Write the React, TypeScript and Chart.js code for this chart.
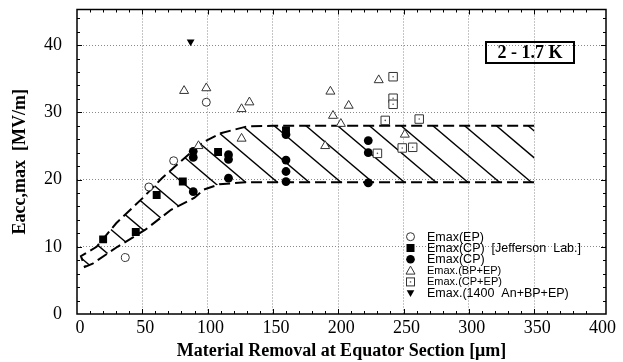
import React, { useEffect, useRef } from 'react';
import { Chart, registerables } from 'chart.js';

Chart.register(...registerables);

// ---------- data ----------
const X_TICKS = [0, 50, 100, 150, 200, 250, 300, 350, 400];
const Y_TICKS = [0, 10, 20, 30, 40];

const epX = [37, 55, 74, 99];
const epY = [8.4, 18.9, 22.8, 31.5];

const jlabX = [20, 45, 61, 81, 108, 160];
const jlabY = [11.1, 12.2, 17.7, 19.7, 24.1, 27.3];

const cpX = [89, 89, 89, 116, 116, 116, 160, 160, 160, 160, 223, 223, 223];
const cpY = [24.2, 23.3, 18.2, 23.7, 23.0, 20.2, 26.7, 22.9, 21.2, 19.7, 25.8, 24.0, 19.5];

const bpX = [82, 99, 93, 126, 132, 126, 194, 231, 208, 196, 202, 190, 251];
const bpY = [33.2, 33.6, 25.0, 30.5, 31.5, 26.1, 33.1, 34.8, 31.0, 29.5, 28.3, 25.0, 26.7];

const cpepX = [242, 242, 242, 236, 262, 230, 249, 257];
const cpepY = [35.3, 32.1, 31.2, 28.8, 29.0, 23.9, 24.7, 24.8];

const anX = [87];
const anY = [40.5];

const bandUpperX = [3, 15, 30, 50, 65, 80, 96, 110, 130, 150, 350];
const bandUpperY = [8.6, 10, 13.5, 17.2, 20.2, 22.8, 25.5, 26.9, 27.9, 28, 28];
const bandLowerX = [6, 12, 31, 52, 72, 90, 97, 109, 129, 350];
const bandLowerY = [7, 7.5, 10, 12.5, 15.5, 17.3, 18.5, 19.3, 19.6, 19.6];

// hatch: lines pass through (HATCH_X0 + k*HATCH_STEP, HATCH_TOP) and (.. + HATCH_RUN, HATCH_BOTTOM)
const HATCH_X0 = 151;
const HATCH_STEP = 24.3;
const HATCH_RUN = 51;
const HATCH_TOP = 28;
const HATCH_BOTTOM = 19.6;

const LEGEND_LABELS = [
  'Emax(EP)',
  'Emax(CP)  [Jefferson  Lab.]',
  'Emax(CP)',
  'Emax.(BP+EP)',
  'Emax.(CP+EP)',
  'Emax.(1400  An+BP+EP)',
];
const LEGEND_KINDS = ['openCircle', 'filledSquare', 'filledCircle', 'openTriangle', 'openSquare', 'downTriangle'];
const LEGEND_SIZES = [12.5, 12.5, 12.5, 11, 11, 12.5];

const BOX_TEXT = '2 - 1.7 K';

const X_TITLE = 'Material Removal at Equator Section [μm]';
const Y_TITLE = 'Eacc,max  [MV/m]';

const pts = (xs: number[], ys: number[]) => xs.map((v, i) => ({ x: v, y: ys[i] }));

function drawMarker(ctx: CanvasRenderingContext2D, kind: string, cx: number, cy: number) {
  ctx.save();
  ctx.fillStyle = '#000';
  ctx.strokeStyle = '#333';
  ctx.lineWidth = 1;
  ctx.beginPath();
  if (kind === 'openCircle') {
    ctx.arc(cx, cy, 4, 0, Math.PI * 2);
    ctx.stroke();
  } else if (kind === 'filledSquare') {
    ctx.fillRect(cx - 4, cy - 4, 8, 8);
  } else if (kind === 'filledCircle') {
    ctx.arc(cx, cy, 4.3, 0, Math.PI * 2);
    ctx.fill();
  } else if (kind === 'openTriangle') {
    ctx.moveTo(cx, cy - 4.5);
    ctx.lineTo(cx + 4.5, cy + 3.5);
    ctx.lineTo(cx - 4.5, cy + 3.5);
    ctx.closePath();
    ctx.stroke();
  } else if (kind === 'openSquare') {
    ctx.strokeRect(cx - 4, cy - 4, 8, 8);
    ctx.fillStyle = '#555';
    ctx.fillRect(cx - 0.7, cy - 0.7, 1.4, 1.4);
  } else if (kind === 'downTriangle') {
    ctx.moveTo(cx - 3.8, cy - 3);
    ctx.lineTo(cx + 3.8, cy - 3);
    ctx.lineTo(cx, cy + 3.8);
    ctx.closePath();
    ctx.fill();
  }
  ctx.restore();
}

const hatchPlugin = {
  id: 'hatch',
  beforeDatasetsDraw(chart: any) {
    const { ctx, scales } = chart;
    const x = scales.x;
    const y = scales.y;
    ctx.save();
    ctx.beginPath();
    bandUpperX.forEach((v, i) => {
      const px = x.getPixelForValue(v);
      const py = y.getPixelForValue(bandUpperY[i]);
      if (i === 0) ctx.moveTo(px, py);
      else ctx.lineTo(px, py);
    });
    for (let i = bandLowerX.length - 1; i >= 0; i--) {
      ctx.lineTo(x.getPixelForValue(bandLowerX[i]), y.getPixelForValue(bandLowerY[i]));
    }
    ctx.closePath();
    ctx.clip();
    ctx.strokeStyle = '#000';
    ctx.lineWidth = 1.4;
    for (let k = -14; k <= 10; k++) {
      const x0 = HATCH_X0 + k * HATCH_STEP;
      const ax = x.getPixelForValue(x0);
      const ay = y.getPixelForValue(HATCH_TOP);
      const bx = x.getPixelForValue(x0 + HATCH_RUN);
      const by = y.getPixelForValue(HATCH_BOTTOM);
      const dx = bx - ax;
      const dy = by - ay;
      ctx.beginPath();
      ctx.moveTo(ax - 3 * dx, ay - 3 * dy);
      ctx.lineTo(ax + 3 * dx, ay + 3 * dy);
      ctx.stroke();
    }
    ctx.restore();
  },
};

const framePlugin = {
  id: 'frame',
  afterDraw(chart: any) {
    const { ctx, chartArea, scales } = chart;
    const x = scales.x;
    const y = scales.y;
    const { left, right, top, bottom } = chartArea;
    ctx.save();
    ctx.strokeStyle = '#000';
    ctx.lineWidth = 1.5;
    ctx.strokeRect(left, top, right - left, bottom - top);
    ctx.lineWidth = 1;
    ctx.beginPath();
    for (let v = 10; v < 400; v += 10) {
      const px = Math.round(x.getPixelForValue(v)) + 0.5;
      const len = v % 50 === 0 ? 5 : 3;
      ctx.moveTo(px, bottom);
      ctx.lineTo(px, bottom - len);
      ctx.moveTo(px, top);
      ctx.lineTo(px, top + len);
    }
    for (let v = 2; v < 45; v += 2) {
      const py = Math.round(y.getPixelForValue(v)) + 0.5;
      const len = v % 10 === 0 ? 5 : 3;
      ctx.moveTo(left, py);
      ctx.lineTo(left + len, py);
      ctx.moveTo(right, py);
      ctx.lineTo(right - len, py);
    }
    ctx.stroke();

    // legend
    LEGEND_LABELS.forEach((lab, i) => {
      const cy = 236.7 + 11.3 * i;
      drawMarker(ctx, LEGEND_KINDS[i], 410.5, cy);
      ctx.fillStyle = '#000';
      ctx.font = `${LEGEND_SIZES[i]}px "Liberation Sans", Arial, sans-serif`;
      ctx.textAlign = 'left';
      ctx.textBaseline = 'middle';
      ctx.fillText(lab, 427, cy + 0.5);
    });

    // temperature box
    ctx.lineWidth = 2;
    ctx.strokeStyle = '#000';
    ctx.strokeRect(486, 42, 88, 21);
    ctx.font = 'bold 18px "Liberation Serif", "Times New Roman", serif';
    ctx.textAlign = 'center';
    ctx.textBaseline = 'middle';
    ctx.fillStyle = '#000';
    ctx.fillText(BOX_TEXT, 530, 53.5);
    ctx.restore();
  },
};

const tickFont = { family: '"Liberation Serif", "Times New Roman", serif', size: 18 };
const titleFont = { family: '"Liberation Serif", "Times New Roman", serif', size: 18, weight: 'bold' as const };

export default function App() {
  const ref = useRef<HTMLCanvasElement | null>(null);
  useEffect(() => {
    if (!ref.current) return;
    const open = { backgroundColor: '#fff', borderColor: '#333', borderWidth: 1 };
    const chart = new Chart(ref.current, {
      type: 'scatter',
      data: {
        datasets: [
          { label: 'an', data: pts(anX, anY), pointStyle: 'triangle', rotation: 180, pointRadius: 4.5, backgroundColor: '#000', borderColor: '#000', borderWidth: 0 } as any,
          { label: 'cpepDot', data: pts(cpepX, cpepY), pointStyle: 'circle', pointRadius: 0.8, backgroundColor: '#555', borderWidth: 0 },
          { label: 'cpep', data: pts(cpepX, cpepY), pointStyle: 'rect', pointRadius: 6, ...open },
          { label: 'bp', data: pts(bpX, bpY), pointStyle: 'triangle', pointRadius: 5.2, ...open },
          { label: 'cp', data: pts(cpX, cpY), pointStyle: 'circle', pointRadius: 4.4, backgroundColor: '#000', borderColor: '#000', borderWidth: 0 },
          { label: 'jlab', data: pts(jlabX, jlabY), pointStyle: 'rect', pointRadius: 5.6, backgroundColor: '#000', borderColor: '#000', borderWidth: 0 },
          { label: 'ep', data: pts(epX, epY), pointStyle: 'circle', pointRadius: 4, ...open },
          {
            label: 'band',
            data: [...pts(bandUpperX, bandUpperY).reverse(), ...pts(bandLowerX, bandLowerY)],
            showLine: true,
            pointRadius: 0,
            borderColor: '#000',
            borderWidth: 2,
            borderDash: [11, 5],
            fill: false,
          } as any,
        ],
      },
      options: {
        responsive: true,
        maintainAspectRatio: false,
        animation: false,
        layout: { padding: { left: 0, right: 17, top: 9.5, bottom: 0 } },
        plugins: { legend: { display: false }, tooltip: { enabled: false } },
        scales: {
          x: {
            type: 'linear',
            min: 0,
            max: 405,
            afterBuildTicks: (s: any) => { s.ticks = X_TICKS.map((v) => ({ value: v })); },
            afterFit: (s: any) => { s.height = 48; s.paddingLeft = 0; s.paddingRight = 0; },
            ticks: { font: tickFont, color: '#000', padding: 3, labelOffset: 3, maxRotation: 0, autoSkip: false },
            grid: {
              drawTicks: false,
              lineWidth: 1,
              color: (c: any) => (c.tick && (c.tick.value === 0 || c.tick.value === 400) ? 'rgba(0,0,0,0)' : '#8a8a8a'),
            },
            border: { display: false, dash: [1, 2] },
            title: { display: true, text: X_TITLE, font: titleFont, color: '#000', padding: { top: 0, bottom: 0 } },
          },
          y: {
            type: 'linear',
            min: 0,
            max: 45.3,
            afterBuildTicks: (s: any) => { s.ticks = Y_TICKS.map((v) => ({ value: v })); },
            afterFit: (s: any) => { s.width = 77; s.paddingTop = 0; s.paddingBottom = 0; },
            ticks: { font: tickFont, color: '#000', padding: 15, autoSkip: false },
            grid: {
              drawTicks: false,
              lineWidth: 1,
              color: (c: any) => (c.tick && c.tick.value === 0 ? 'rgba(0,0,0,0)' : '#8a8a8a'),
            },
            border: { display: false, dash: [1, 2] },
            title: { display: true, text: Y_TITLE, font: titleFont, color: '#000', padding: { top: 10, bottom: 0 } },
          },
        },
      },
      plugins: [hatchPlugin, framePlugin],
    });
    return () => chart.destroy();
  }, []);
  return (
    <div style={{ position: 'fixed', left: 0, top: 0, width: 623, height: 362, background: '#fff' }}>
      <canvas ref={ref} />
    </div>
  );
}
